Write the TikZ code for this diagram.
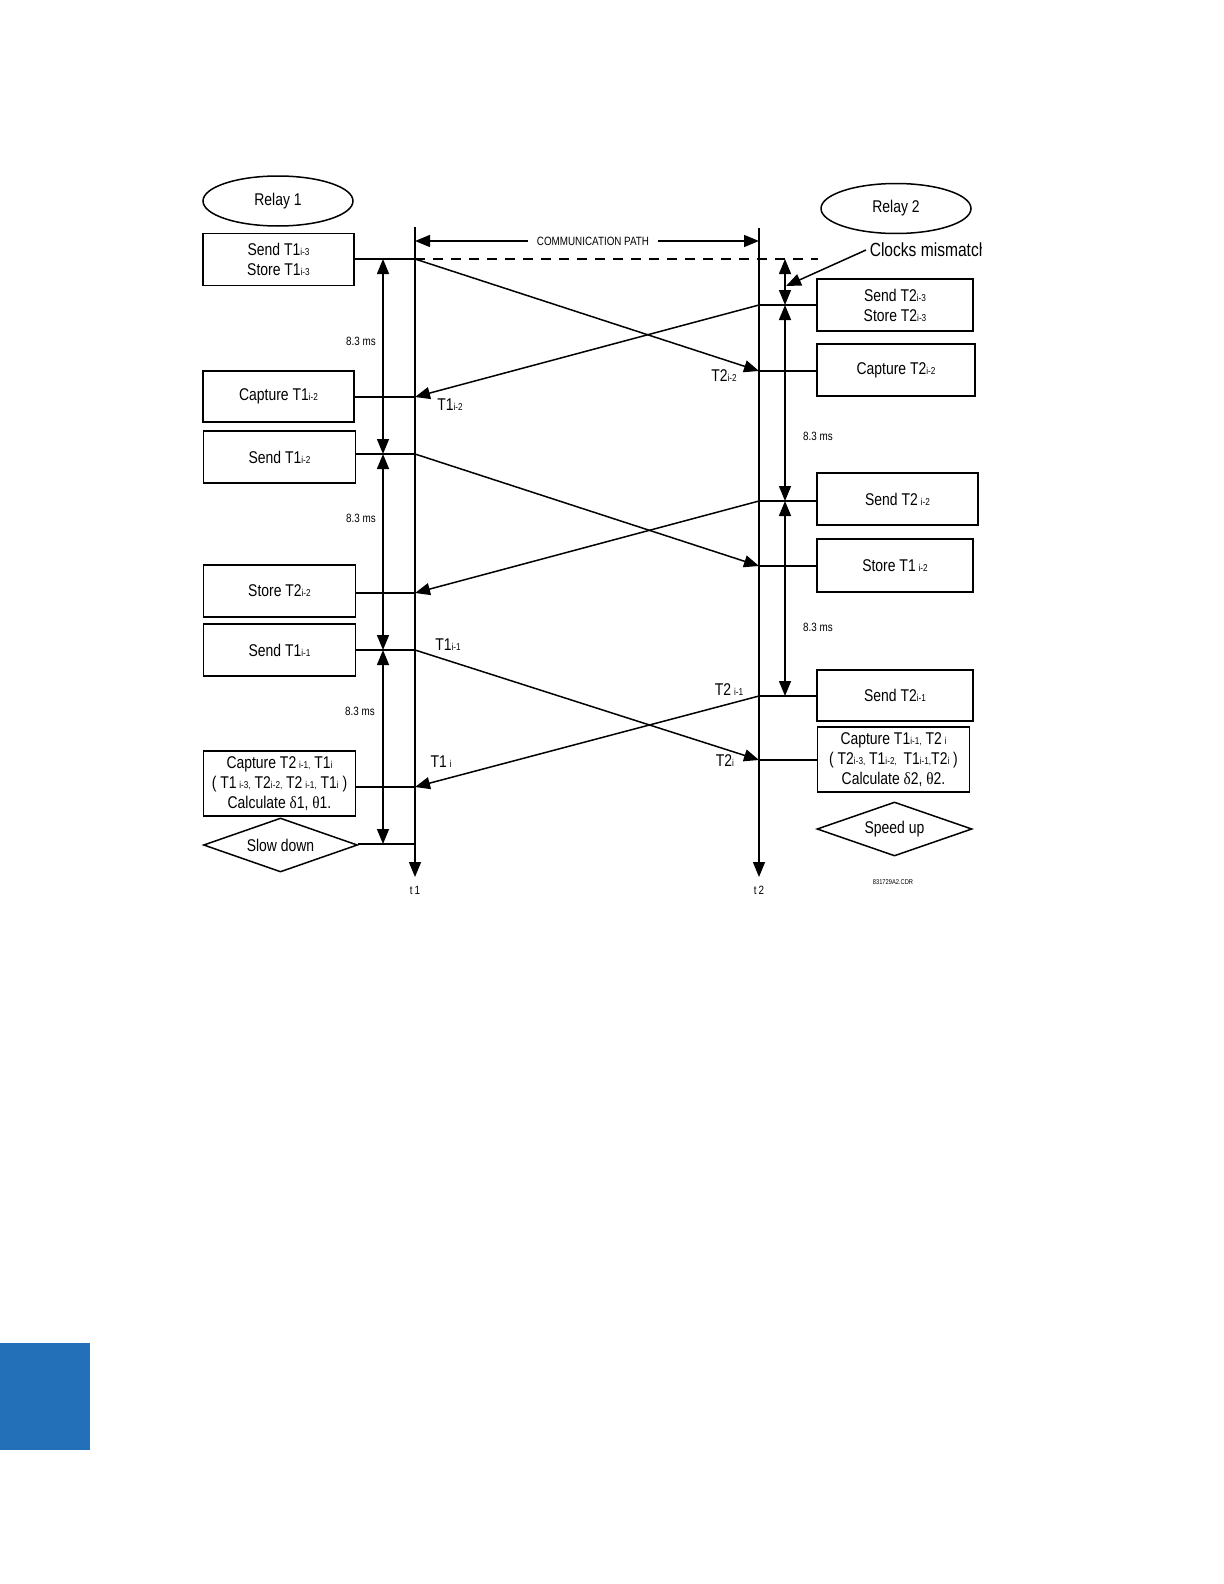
\documentclass[tikz,border=0pt]{standalone}
\usepackage{fontspec}
\setmainfont[FakeStretch=0.82]{Liberation Sans}
\newfontfamily\greekfont[FakeStretch=0.9]{Liberation Serif}
\usetikzlibrary{arrows.meta,shapes.geometric}
\definecolor{tabblue}{RGB}{36,112,184}
\newcommand{\ix}[1]{{\fontsize{5}{5}\selectfont #1}}

\begin{document}
\begin{tikzpicture}[
  x=0.5pt, y=-0.5pt,
  >={Triangle[length=7.5pt, width=6pt]},
  line width=0.75pt,
  font=\fontsize{8.5}{10}\selectfont,
  relay/.style={draw, ellipse, inner sep=0pt, minimum width=75pt, minimum height=25pt},
  stepbox/.style={draw, align=center, inner sep=0pt, minimum width=76pt, minimum height=26pt},
  calcbox/.style={stepbox, minimum height=32.5pt},
  decision/.style={draw, diamond, aspect=2.8, inner sep=0pt, minimum width=77pt, minimum height=27pt},
  msg/.style={->},
  period/.style={<->},
  tlabel/.style={inner sep=0pt},
  smalltext/.style={font=\fontsize{6}{7}\selectfont, inner sep=0pt}
]
\useasboundingbox (0,0) rectangle (1224,1584);
\fill[tabblue] (0,1343) rectangle (90,1450);

\coordinate (t1top) at (415,227);
\coordinate (t1bot) at (415,877);
\coordinate (t2top) at (759,228);
\coordinate (t2bot) at (759,877);
\coordinate (a1) at (415,259);
\coordinate (a2) at (415,397);
\coordinate (a3) at (415,454);
\coordinate (a4) at (415,593);
\coordinate (a5) at (415,650);
\coordinate (a6) at (415,787);
\coordinate (a7) at (415,844);
\coordinate (b1) at (759,305);
\coordinate (b2) at (759,371);
\coordinate (b3) at (759,501);
\coordinate (b4) at (759,566);
\coordinate (b5) at (759,696);
\coordinate (b6) at (759,760);
\coordinate (dashend) at (818,259);
\coordinate (pl1) at (383,259);
\coordinate (pl2) at (383,454);
\coordinate (pl3) at (383,650);
\coordinate (pl4) at (383,844);
\coordinate (pr1) at (785,259);
\coordinate (pr2) at (785,305);
\coordinate (pr3) at (785,501);
\coordinate (pr4) at (785,696);
\coordinate (cp1) at (415,241);
\coordinate (cp2) at (759,241);
\coordinate (cm) at (786,286);

\node[relay] (relayone) at (278,201) {Relay 1};
\node[stepbox, minimum width=75.5pt] (sendone) at (278.5,259.5) {Send T1\ix{i-3}\\Store T1\ix{i-3}};
\node[stepbox, minimum width=75.5pt, minimum height=25.5pt] (captone) at (278.5,396.5) {Capture T1\ix{i-2}};
\node[stepbox] (sendtwo) at (279.5,457) {Send T1\ix{i-2}};
\node[stepbox] (storetwo) at (279.5,591) {Store T2\ix{i-2}};
\node[stepbox] (sendthree) at (279.5,650) {Send T1\ix{i-1}};
\node[calcbox] (calcone) at (279.5,783.5) {Capture T2\,\ix{i-1,} T1\ix{i}\\( T1\,\ix{i-3,} T2\ix{i-2,} T2\,\ix{i-1,} T1\ix{i} )\\Calculate {\greekfont δ}1, {\greekfont θ}1.};
\node[decision] (slow) at (280.5,845) {Slow down};

\node[relay] (relaytwo) at (896,208.5) {Relay 2};
\node[stepbox, minimum width=78pt] (rsendone) at (895,305) {Send T2\ix{i-3}\\Store T2\ix{i-3}};
\node[stepbox, minimum width=79pt] (rcaptone) at (896,370) {Capture T2\ix{i-2}};
\node[stepbox, minimum width=80.5pt] (rsendtwo) at (897.5,499) {Send T2\,\ix{i-2}};
\node[stepbox, minimum width=78pt, minimum height=26.5pt] (rstoretwo) at (895,565.5) {Store T1\,\ix{i-2}};
\node[stepbox, minimum width=78pt, minimum height=25.5pt] (rsendthree) at (895,695.5) {Send T2\ix{i-1}};
\node[calcbox] (calctwo) at (893.5,759.5) {Capture T1\ix{i-1,} T2\,\ix{i}\\( T2\ix{i-3,} T1\ix{i-2,}\, T1\ix{i-1,}T2\ix{i} )\\Calculate {\greekfont δ}2, {\greekfont θ}2.};
\node[decision, minimum width=77.5pt] (speed) at (894.5,829) {Speed up};

\node[smalltext, inner xsep=4pt] (comm) at (593,241) {COMMUNICATION PATH};
\begin{scope}
\clip (800,230) rectangle (981,270);
\node[anchor=west, inner sep=1.5pt, font=\fontsize{9.5}{11}\selectfont] (clk) at (866,250) {Clocks mismatch};
\end{scope}

\draw[->] (t1top) -- (t1bot);
\draw[->] (t2top) -- (t2bot);
\draw[->] (comm.west) -- (cp1);
\draw[->] (comm.east) -- (cp2);
\draw[dash pattern=on 5pt off 4pt] (a1) -- (dashend);
\draw[->] (clk.west) -- (cm);

\draw (sendone.east |- a1) -- (a1);
\draw (captone.east |- a2) -- (a2);
\draw (sendtwo.east |- a3) -- (a3);
\draw (storetwo.east |- a4) -- (a4);
\draw (sendthree.east |- a5) -- (a5);
\draw (calcone.east |- a6) -- (a6);
\draw (slow.east |- a7) -- (a7);
\draw (b1) -- (b1 -| rsendone.west);
\draw (b2) -- (b2 -| rcaptone.west);
\draw (b3) -- (b3 -| rsendtwo.west);
\draw (b4) -- (b4 -| rstoretwo.west);
\draw (b5) -- (b5 -| rsendthree.west);
\draw (b6) -- (b6 -| calctwo.west);

\draw[msg] (a1) -- (b2);
\draw[msg] (b1) -- (a2);
\draw[msg] (a3) -- (b4);
\draw[msg] (b3) -- (a4);
\draw[msg] (a5) -- (b6);
\draw[msg] (b5) -- (a6);

\draw[period] (pl1) -- (pl2);
\draw[period] (pl2) -- (pl3);
\draw[period] (pl3) -- (pl4);
\draw[period] (pr1) -- (pr2);
\draw[period] (pr2) -- (pr3);
\draw[period] (pr3) -- (pr4);

\node[tlabel] (tonea) at (450,405) {T1\ix{i-2}};
\node[tlabel] (ttwoa) at (724,376) {T2\ix{i-2}};
\node[tlabel] (toneb) at (448,645) {T1\ix{i-1}};
\node[tlabel] (ttwob) at (729,690) {T2\,\ix{i-1}};
\node[tlabel] (tonec) at (441,762) {T1\,\ix{i}};
\node[tlabel] (ttwoc) at (725,761) {T2\ix{i}};

\node[smalltext] (msone) at (361,341) {8.3 ms};
\node[smalltext] (mstwo) at (361,518) {8.3 ms};
\node[smalltext] (msthree) at (360,711) {8.3 ms};
\node[smalltext] (msfour) at (818,436) {8.3 ms};
\node[smalltext] (msfive) at (818,627) {8.3 ms};
\node[smalltext] (tone) at (415,890) {t\,1};
\node[smalltext] (ttwo) at (759,890) {t\,2};
\node[inner sep=0pt, font=\fontsize{3.5}{4}\selectfont] (fileid) at (893,882) {831729A2.CDR};
\end{tikzpicture}
\end{document}
